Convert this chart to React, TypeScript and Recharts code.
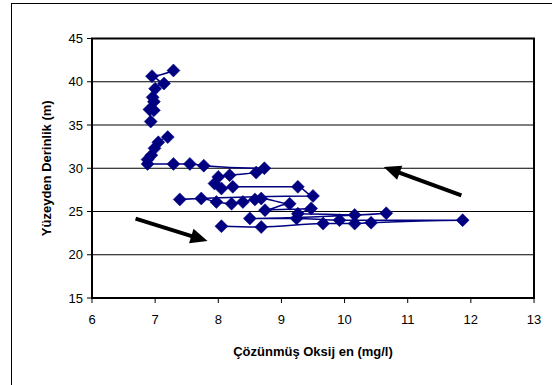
import React from 'react';
import {
  ScatterChart,
  Scatter,
  XAxis,
  YAxis,
  CartesianGrid,
  ReferenceArea,
  ReferenceLine,
  Label,
} from 'recharts';

// Upper profile (deep part, ~35-41 m)
const upperOxygen = [7.29, 6.95, 7.14, 7.0, 6.96, 6.98, 6.98, 6.91, 6.93];
const upperDepth = [41.3, 40.64, 39.8, 39.2, 38.2, 37.7, 36.7, 36.8, 35.4];

// Main profile (~23-34 m)
const mainOxygen = [
  7.2, 7.05, 6.99, 6.94, 6.88, 6.88, 7.29, 7.55, 7.77, 8.73, 8.6, 8.18, 8.0,
  7.94, 8.05, 8.23, 9.26, 9.5, 7.39, 7.73, 7.97, 8.21, 8.39, 8.58, 8.68, 9.13,
  8.74, 9.47, 9.26, 10.16, 10.66, 8.5, 9.24, 9.92, 11.87, 10.42, 10.16, 9.66,
  8.68, 8.05,
];
const mainDepth = [
  33.6, 33.0, 32.3, 31.5, 31.0, 30.5, 30.5, 30.5, 30.3, 30.0, 29.5, 29.2, 29.0,
  28.24, 27.66, 27.85, 27.85, 26.8, 26.4, 26.5, 26.1, 25.9, 26.1, 26.4, 26.5,
  25.9, 25.15, 25.35, 24.75, 24.6, 24.8, 24.2, 24.2, 24.0, 24.0, 23.7, 23.6,
  23.6, 23.2, 23.3,
];

const xTicks = [6, 7, 8, 9, 10, 11, 12, 13];
const yTicks = [15, 20, 25, 30, 35, 40, 45];

// Annotation arrows (start -> tip), in data units
const arrowStartX = [6.69, 11.85];
const arrowStartY = [24.17, 26.87];
const arrowTipX = [7.83, 10.62];
const arrowTipY = [21.59, 30.15];

const upperData = upperOxygen.map((x, i) => ({ x, y: upperDepth[i] }));
const mainData = mainOxygen.map((x, i) => ({ x, y: mainDepth[i] }));
const arrows = arrowStartX.map((x, i) => [
  { x, y: arrowStartY[i] },
  { x: arrowTipX[i], y: arrowTipY[i] },
]);

const NAVY = '#000080';
const FONT = '"Liberation Sans", Arial, sans-serif';

const Diamond = (props: any) => {
  const { cx, cy } = props;
  if (cx == null || cy == null) return null;
  const r = 6.5;
  return (
    <polygon
      points={`${cx},${cy - r} ${cx + r},${cy} ${cx},${cy + r} ${cx - r},${cy}`}
      fill={NAVY}
      stroke={NAVY}
      strokeWidth={0.5}
    />
  );
};

const Arrow = (props: any) => {
  const { x1, y1, x2, y2 } = props;
  const dx = x2 - x1;
  const dy = y2 - y1;
  const len = Math.sqrt(dx * dx + dy * dy) || 1;
  const ux = dx / len;
  const uy = dy / len;
  const headLen = 17;
  const headHalf = 7.5;
  const bx = x2 - ux * headLen;
  const by = y2 - uy * headLen;
  const nx = -uy;
  const ny = ux;
  return (
    <g>
      <line x1={x1} y1={y1} x2={bx + ux * 2} y2={by + uy * 2} stroke="#000" strokeWidth={4} />
      <polygon
        points={`${x2},${y2} ${bx + nx * headHalf},${by + ny * headHalf} ${bx - nx * headHalf},${by - ny * headHalf}`}
        fill="#000"
      />
    </g>
  );
};

export default function App() {
  return (
    <div
      style={{
        position: 'absolute',
        left: 0,
        top: 0,
        width: 552,
        height: 385,
        background: '#fff',
        overflow: 'hidden',
      }}
    >
      <div
        style={{
          position: 'absolute',
          left: 11,
          top: 3,
          width: 545,
          height: 390,
          borderLeft: '1.5px solid #000',
          borderTop: '1.5px solid #000',
        }}
      />
      <div style={{ position: 'absolute', left: 0, top: 0 }}>
        <ScatterChart
          width={552}
          height={385}
          margin={{ top: 38.5, right: 18, bottom: 0, left: 0 }}
          style={{ fontFamily: FONT }}
        >
          <CartesianGrid vertical={false} stroke="#000" strokeWidth={1} fill="none" />
          <XAxis
            type="number"
            dataKey="x"
            domain={[6, 13]}
            ticks={xTicks}
            allowDataOverflow
            height={87}
            tickSize={5}
            tickMargin={12}
            axisLine={{ stroke: '#000', strokeWidth: 2 }}
            tickLine={{ stroke: '#000', strokeWidth: 1 }}
            tick={{ fill: '#000', fontSize: 13, fontFamily: FONT }}
          >
            <Label
              value="Çözünmüş Oksij en (mg/l)"
              position="center"
              dy={10}
              style={{ fontFamily: FONT, fontSize: 13, fontWeight: 'bold', fill: '#000' }}
            />
          </XAxis>
          <YAxis
            type="number"
            dataKey="y"
            domain={[15, 45]}
            ticks={yTicks}
            allowDataOverflow
            width={92}
            tickSize={5}
            tickMargin={4}
            axisLine={{ stroke: '#000', strokeWidth: 2 }}
            tickLine={{ stroke: '#000', strokeWidth: 1 }}
            tick={{ fill: '#000', fontSize: 13, fontFamily: FONT }}
          >
            <Label
              value="Yüzeyden Derinlik (m)"
              position="center"
              angle={-90}
              dx={0}
              style={{ fontFamily: FONT, fontSize: 13, fontWeight: 'bold', fill: '#000', textAnchor: 'middle' }}
            />
          </YAxis>
          <ReferenceArea
            x1={6}
            x2={13}
            y1={15}
            y2={45}
            stroke="#000"
            strokeWidth={2}
            fill="none"
            fillOpacity={0}
            ifOverflow="visible"
          />
          <Scatter
            data={upperData}
            fill={NAVY}
            line={{ stroke: NAVY, strokeWidth: 1.5 }}
            lineJointType="monotoneX"
            shape={Diamond}
            isAnimationActive={false}
          />
          <Scatter
            data={mainData}
            fill={NAVY}
            line={{ stroke: NAVY, strokeWidth: 1.5 }}
            lineJointType="monotoneX"
            shape={Diamond}
            isAnimationActive={false}
          />
          {arrows.map((seg, i) => (
            <ReferenceLine
              key={i}
              segment={seg}
              ifOverflow="visible"
              shape={Arrow}
            />
          ))}
        </ScatterChart>
      </div>
    </div>
  );
}
